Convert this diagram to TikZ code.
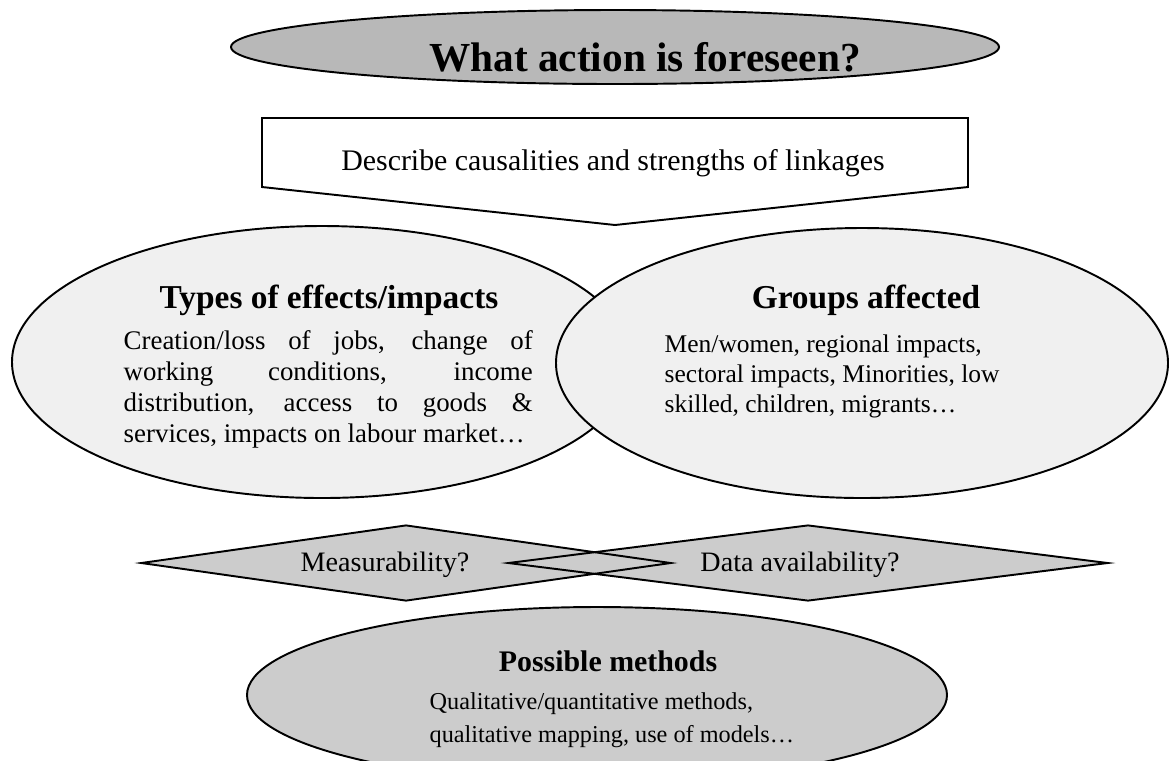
\documentclass[tikz,border=0pt]{standalone}
\usepackage{fontspec}
\setmainfont{Liberation Serif}
\usepackage{xcolor}
\usepackage{tikz}
\usetikzlibrary{shapes.geometric,positioning}
\definecolor{topgrey}{gray}{0.72}
\definecolor{midgrey}{gray}{0.80}
\definecolor{palegrey}{gray}{0.94}

\begin{document}
\begin{tikzpicture}[line width=1.1pt, every node/.style={inner sep=1pt},
    topell/.style={ellipse, minimum width=15.36cm, minimum height=1.48cm},
    effell/.style={ellipse, minimum width=12.4cm, minimum height=5.44cm},
    grpell/.style={ellipse, minimum width=12.24cm, minimum height=5.4cm},
    methell/.style={ellipse, minimum width=14cm, minimum height=3.52cm},
    measdia/.style={diamond, aspect=7, minimum width=10.6cm, minimum height=1.52cm},
    datadia/.style={diamond, aspect=7.9, minimum width=12cm, minimum height=1.52cm},
    headtxt/.style={font=\fontsize{19}{21}\selectfont\bfseries},
    asktxt/.style={font=\fontsize{16}{18}\selectfont}]
\useasboundingbox (0,0) rectangle (23.42,-15.2);
\clip (0,0) rectangle (23.42,-15.2);

% question on top
\node[topell, draw, fill=topgrey] (action) at (12.3,-0.94) {};
\node[font=\fontsize{23.5}{25}\selectfont\bfseries] (actiontxt) at (12.9,-1.14) {What action is foreseen?};

% arrow box
\coordinate (tip) at (12.3,-4.5);
\draw[fill=white] (5.24,-2.36) -- (19.36,-2.36) -- (19.36,-3.74) -- (tip) -- (5.24,-3.74) -- cycle;
\node[font=\fontsize{17}{19}\selectfont] (desc) at (12.26,-3.26) {Describe causalities and strengths of linkages};

% the two overlapping ellipses
\node[effell, draw, fill=palegrey] (effects) at (6.44,-7.24) {};
\node[grpell, draw, fill=palegrey] (groups) at (17.24,-7.26) {};

\node[headtxt] (efftitle) at (6.58,-6.0) {Types of effects/impacts};
\node[font=\fontsize{15.3}{17.6}\selectfont, text width=8.18cm, align=justify, anchor=north west] (efftext) at (2.42,-6.56)
    {Creation/loss of jobs, change of\linebreak working conditions, income\linebreak distribution, access to goods \&\linebreak services, impacts on labour market…};

\node[headtxt] (grptitle) at (17.32,-6.0) {Groups affected};
\node[font=\fontsize{14.5}{17}\selectfont, align=left, anchor=north west] (grptext) at (13.24,-6.64)
    {Men/women, regional impacts,\\ sectoral impacts, Minorities, low\\ skilled, children, migrants…};

% the two questions
\node[measdia, fill=midgrey] (measure) at (8.12,-11.26) {};
\node[datadia, fill=midgrey] (data) at (16.16,-11.26) {};
\node[measdia, draw] at (measure) {};
\node[datadia, draw] at (data) {};
\node[asktxt] at (7.7,-11.3) {Measurability?};
\node[asktxt] at (16.0,-11.3) {Data availability?};

% methods
\node[methell, draw, fill=midgrey] (methods) at (11.94,-13.9) {};
\node[font=\fontsize{17}{19}\selectfont\bfseries] (methtitle) at (12.16,-13.22) {Possible methods};
\node[font=\fontsize{13.8}{18.7}\selectfont, align=left, anchor=north west] (methtext) at (8.54,-13.8)
    {Qualitative/quantitative methods,\\ qualitative mapping, use of models…};
\end{tikzpicture}
\end{document}
